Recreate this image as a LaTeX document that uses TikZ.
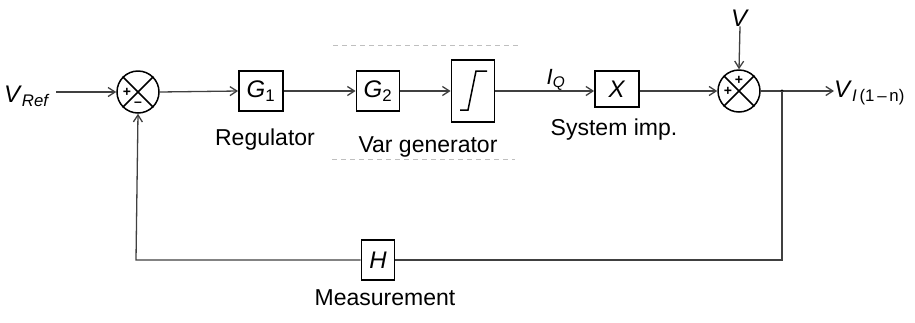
\documentclass[tikz,border=0pt]{standalone}
\usepackage{fontspec}
\setmainfont{Liberation Sans}
\usetikzlibrary{arrows.meta}
\tikzset{
  blk/.style={draw=black, line width=1.8pt, minimum width=44pt, minimum height=40pt, inner sep=0pt, font=\fontsize{24}{26}\selectfont},
  summer/.style={draw=black, line width=1.5pt, circle, minimum size=42pt, inner sep=0pt},
  sig/.style={draw=black!75, line width=1.3pt},
  arr/.style={sig, -{Straight Barb[length=7pt, width=9pt, line width=1.3pt]}},
  lbl/.style={font=\fontsize{23}{25}\selectfont, inner sep=0pt},
  sgn/.style={font=\fontsize{14}{14}\selectfont\bfseries, inner sep=0pt},
  faint/.style={draw=black!25, line width=1pt, dash pattern=on 5pt off 4pt}
}
\begin{document}
\begin{tikzpicture}[x=1pt,y=-1pt]
\useasboundingbox (0,0) rectangle (915,322);
% nodes
\node[lbl, font=\fontsize{24}{26}\selectfont] (vref) at (27,96) {\textit{V}\textsubscript{\textit{Ref}}};
\node[summer] (s1) at (138,92) {};
\node[blk] (g1) at (261,91) {\textit{G}\textsubscript{1}};
\node[blk, minimum width=43pt] (g2) at (378,91) {\textit{G}\textsubscript{2}};
\node[blk, minimum width=43pt, minimum height=62pt] (lim) at (473,91) {};
\node[blk, minimum height=36pt] (xb) at (617,89) {\textit{X}};
\node[summer] (s2) at (739,91) {};
\node[lbl, font=\fontsize{24}{26}\selectfont] (vin) at (740,18) {\textit{V}};
\node[blk, minimum width=33pt, minimum height=40pt] (hb) at (378,260) {\textit{H}};
\node[lbl, anchor=west, font=\fontsize{24}{26}\selectfont] (vout) at (834,93) {\textit{V}\textsubscript{\textit{I}\,(1\,--\,n)}};
\node[lbl, font=\fontsize{22}{24}\selectfont] (iq) at (556,80) {\textit{I}\textsubscript{\textit{Q}}};
\coordinate (vs) at (56,92);
\coordinate (br) at (782,91);
\coordinate (fbr) at (782,260);
\coordinate (fbl) at (136,260);
% labels under blocks
\node[lbl, anchor=base] (lreg) at (265,145) {Regulator};
\node[lbl, anchor=base] (lvar) at (428,152) {Var generator};
\node[lbl, anchor=base] (lsys) at (614,135) {System imp.};
\node[lbl, anchor=base] (lmeas) at (385,305) {Measurement};
% summer crosses
\foreach \s in {s1,s2}{
  \draw[black, line width=1.5pt] (\s.north west) -- (\s.south east);
  \draw[black, line width=1.5pt] (\s.south west) -- (\s.north east);
}
\node[sgn] (p1) at ([xshift=-11pt]s1.center) {+};
\node[sgn] (m1) at ([yshift=-12pt]s1.center) {--};
\node[sgn] (p2) at ([yshift=11pt]s2.center) {+};
\node[sgn] (p3) at ([xshift=-11pt]s2.center) {+};
% limiter symbol
\draw[black, line width=1.5pt] ([shift={(-13,19)}]lim.center) -- ([shift={(-5,19)}]lim.center)
  -- ([shift={(3,-20)}]lim.center) -- ([shift={(14,-20)}]lim.center);
% connectors
\draw[arr] (vs) -- (s1.west);
\draw[arr] (s1.east) -- (g1.west);
\draw[arr] (g1.east) -- (g2.west);
\draw[arr] (g2.east) -- (lim.west);
\draw[arr] (lim.east) -- (xb.west |- lim.east);
\draw[arr] (xb.east |- s2.west) -- (s2.west);
\draw[arr] (vin.south) -- (s2.north);
\draw[sig] (s2.east) -- (br);
\draw[arr] (br) -- (vout.west |- br);
\fill[black] (br) circle (1.6pt);
\draw[sig] (br) -- (fbr) -- (hb.east);
\draw[arr] (hb.west) -- (fbl) -- (s1.south);
% faint scan lines
\draw[faint] (333,45) -- (520,45);
\draw[faint] (332,159) -- (515,159);
\end{tikzpicture}
\end{document}
